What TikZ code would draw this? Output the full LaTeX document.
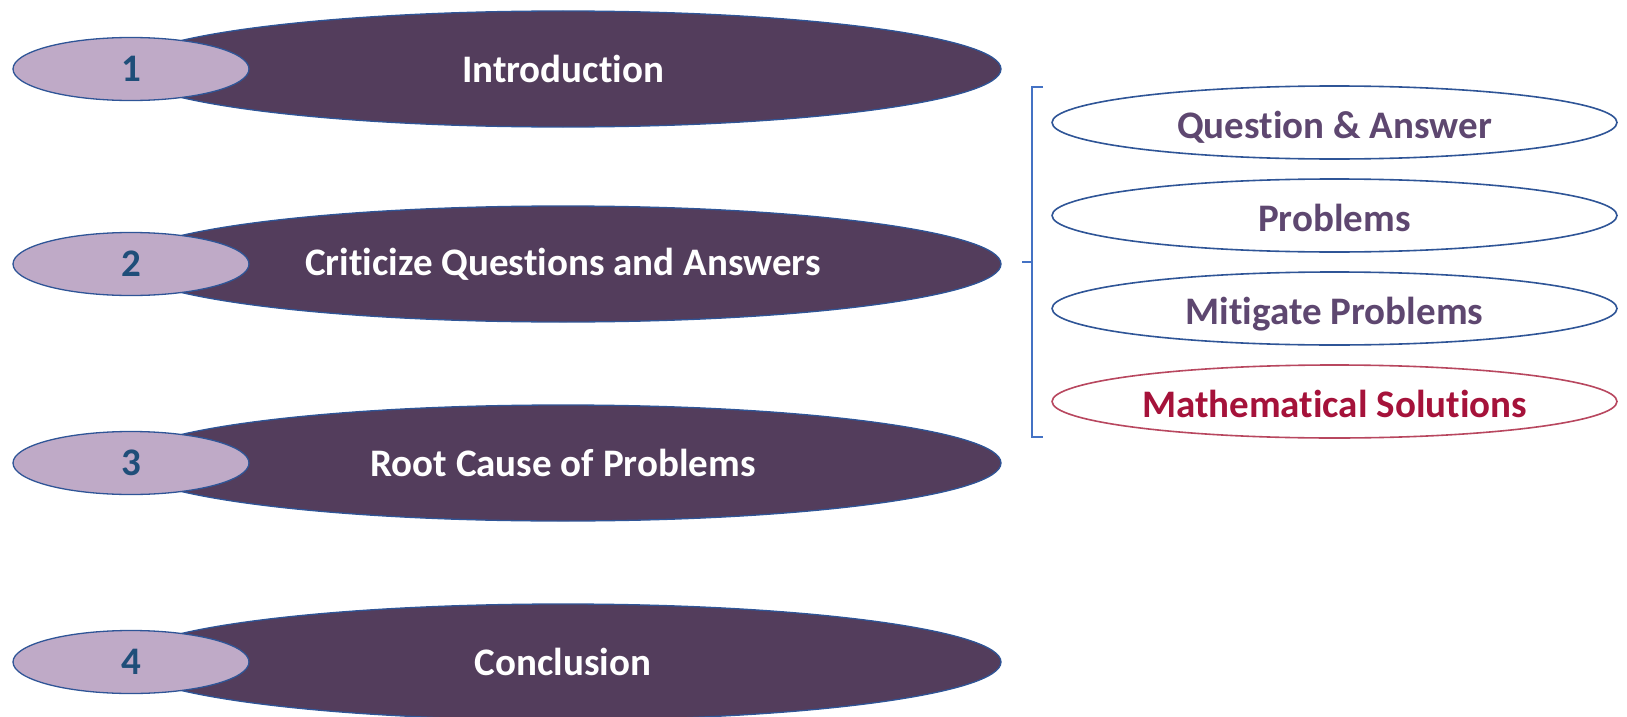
\documentclass[tikz,border=0pt]{standalone}
\usepackage{fontspec}
\setmainfont{Carlito}[Ligatures=NoCommon]
\usetikzlibrary{shapes.geometric}
\definecolor{plum}{HTML}{533D5C}
\definecolor{lilac}{HTML}{BFAAC7}
\definecolor{edgeblue}{HTML}{2F5597}
\definecolor{numblue}{HTML}{1F4E79}
\definecolor{subtext}{HTML}{5E4770}
\definecolor{crimson}{HTML}{A5123A}
\definecolor{crimsonedge}{HTML}{B8475F}
\definecolor{bracketblue}{HTML}{4472C4}
\begin{document}
\begin{tikzpicture}[x=1pt,y=-1pt,
  every node/.style={font=\bfseries\fontsize{39}{47}\selectfont, inner sep=0pt},
  bigoval/.style={ellipse, fill=plum, draw=edgeblue, line width=1.3pt,
    minimum width=876pt, minimum height=116pt, text=white},
  numoval/.style={ellipse, fill=lilac, draw=edgeblue, line width=1.3pt,
    minimum width=236pt, minimum height=63pt, text=numblue},
  suboval/.style={ellipse, fill=white, draw=edgeblue, line width=1.6pt,
    minimum width=565pt, minimum height=73pt, text=subtext,
    text height=35pt, text depth=4pt},
  hotoval/.style={suboval, draw=crimsonedge, text=crimson},
  bracket/.style={draw=bracketblue, line width=2.2pt}]
\useasboundingbox (0,0) rectangle (1627,717);

% main agenda items
\node[bigoval] (t1) at (563,69) {Introduction};
\node[numoval] (n1) at (131,69) {1};
\node[bigoval] (t2) at (563,264) {Criticize Questions and Answers};
\node[numoval] (n2) at (131,264) {2};
\node[bigoval] (t3) at (563,463) {Root Cause of Problems};
\node[numoval] (n3) at (131,463) {3};
\node[bigoval] (t4) at (563,662) {Conclusion};
\node[numoval] (n4) at (131,662) {4};

% sub-items of item 2
\node[suboval] (s1) at (1334.5,122.5) {Question \& Answer};
\node[suboval] (s2) at (1334.5,215.5) {Problems};
\node[suboval] (s3) at (1334.5,308.5) {Mitigate Problems};
\node[hotoval] (s4) at (1334.5,401.5) {Mathematical Solutions};

% bracket grouping the sub-items
\coordinate (btop) at (1032,87);
\coordinate (bbot) at (1032,437);
\coordinate (bmid) at (1032,262);
\draw[bracket] (1043,87) -- (btop) -- (bbot) -- (1043,437);
\draw[bracket] (bmid) -- (1022,262);
\end{tikzpicture}
\end{document}
